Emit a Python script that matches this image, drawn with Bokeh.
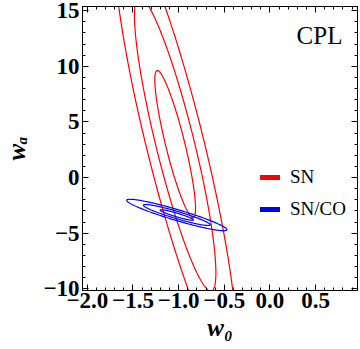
import numpy as np
from bokeh.plotting import figure
from bokeh.models import (Range1d, LinearAxis, SingleIntervalTicker, Label,
                          Legend, LegendItem, CustomJSTickFormatter)
from bokeh.embed import file_html
from bokeh.resources import INLINE

# ---- data -------------------------------------------------------------
x_tick_values = [-2.0, -1.5, -1.0, -0.5, 0.0, 0.5]
x_tick_labels = ["\u22122.0", "\u22121.5", "\u22121.0", "\u22120.5", "0.0", "0.5"]
y_tick_values = [-10, -5, 0, 5, 10, 15]
y_tick_labels = ["\u221210", "\u22125", "0", "5", "10", "15"]

series_names = ["SN", "SN/CO"]
series_colors = ["#ff0000", "#0000ff"]
center_w0 = [-1.038, -1.02]
center_wa = [3.01, -3.37]
sigma_w0 = [0.223, 0.183]
sigma_wa = [6.61, 0.4715]
correlation = [-0.875, -0.933]
contour_levels = [1, 2, 3]

X_RANGE = (-2.053, 0.959)
Y_RANGE = (-10.16, 15.38)


def contour(cx, cy, sx, sy, rho, k, n=361):
    t = np.linspace(0.0, 2.0 * np.pi, n)
    u, v = np.cos(t), np.sin(t)
    x = cx + k * sx * u
    y = cy + k * sy * (rho * u + np.sqrt(1.0 - rho ** 2) * v)
    return list(x), list(y)


p = figure(width=360, height=349, output_backend="svg", toolbar_location=None,
           x_range=Range1d(*X_RANGE), y_range=Range1d(*Y_RANGE),
           min_border_left=75, min_border_right=3, min_border_top=6,
           min_border_bottom=59)
p.grid.visible = False
p.outline_line_color = "black"
p.outline_line_width = 1
p.background_fill_color = "white"
p.border_fill_color = "white"

FONT = "Liberation Serif"

xax = p.xaxis[0]
yax = p.yaxis[0]
xax.ticker = SingleIntervalTicker(interval=0.5, num_minor_ticks=5)
yax.ticker = SingleIntervalTicker(interval=5, num_minor_ticks=5)
xax.major_label_overrides = dict(zip(x_tick_values, x_tick_labels))
yax.major_label_overrides = dict(zip(y_tick_values, y_tick_labels))

blank = CustomJSTickFormatter(code="return ''")
top = LinearAxis(ticker=SingleIntervalTicker(interval=0.5, num_minor_ticks=5),
                 formatter=blank, major_label_standoff=0)
right = LinearAxis(ticker=SingleIntervalTicker(interval=5, num_minor_ticks=5),
                   formatter=blank, major_label_standoff=0)
p.add_layout(top, "above")
p.add_layout(right, "right")

for ax in (xax, yax, top, right):
    ax.major_tick_in = 6
    ax.major_tick_out = 0
    ax.minor_tick_in = 3
    ax.minor_tick_out = 0
    ax.axis_line_color = "black"
    ax.major_tick_line_color = "black"
    ax.minor_tick_line_color = "black"

for ax in (xax, yax):
    ax.major_label_text_font = FONT
    ax.major_label_text_font_style = "bold"
    ax.major_label_text_font_size = "23px"
    ax.major_label_text_color = "black"
    ax.axis_label_text_font = FONT
    ax.axis_label_text_font_style = "bold italic"
    ax.axis_label_text_font_size = "25px"
    ax.axis_label_text_color = "black"
xax.major_label_standoff = 2
yax.major_label_standoff = 3
xax.axis_label = "w\u2080"
yax.axis_label = "w\u2090"
xax.axis_label_standoff = 3
yax.axis_label_standoff = 10

# ---- contours ---------------------------------------------------------
items = []
for i, name in enumerate(series_names):
    xs, ys = [], []
    for k in contour_levels:
        x, y = contour(center_w0[i], center_wa[i], sigma_w0[i], sigma_wa[i],
                       correlation[i], k)
        xs.append(x)
        ys.append(y)
    p.multi_line(xs=xs, ys=ys, line_color=series_colors[i], line_width=1.2)
    key = p.line(x=[np.nan], y=[np.nan], line_color=series_colors[i],
                 line_width=5, line_cap="round")
    items.append(LegendItem(label=name, renderers=[key]))

legend = Legend(items=items, location=(178, 69), padding=0, margin=0,
                spacing=8, glyph_width=20, glyph_height=24, label_height=24,
                label_standoff=10, border_line_color=None,
                background_fill_alpha=0, label_text_font=FONT,
                label_text_font_size="19px", label_text_color="black")
p.add_layout(legend)

# ---- texts ------------------------------------------------------------
p.add_layout(Label(x=0.543, y=12.75, text="CPL", text_align="center",
                   text_baseline="middle", text_font=FONT,
                   text_font_size="25px", text_color="black"))

open("out.html", "w").write(file_html(p, INLINE))
